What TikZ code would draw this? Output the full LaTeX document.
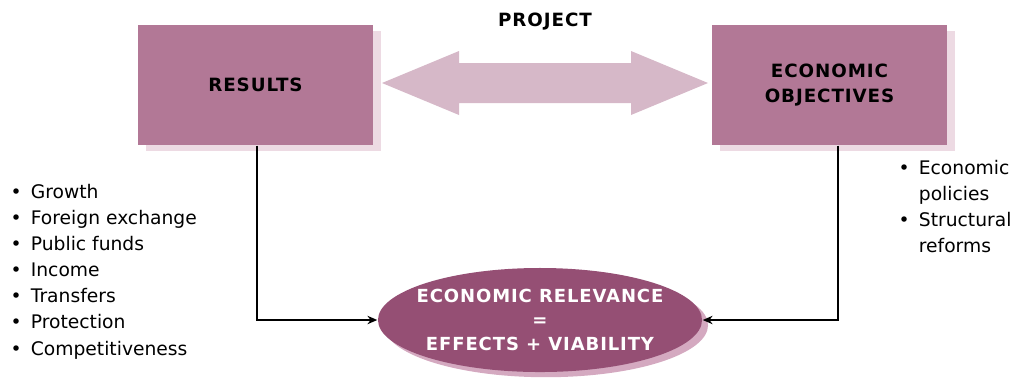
\documentclass[tikz,border=0pt]{standalone}
\usepackage{fontspec}
\setmainfont{DejaVu Sans}
\newfontfamily\capsfont[LetterSpace=5]{DejaVu Sans}
\usetikzlibrary{arrows.meta,shapes.geometric,shadows}
\definecolor{boxpink}{HTML}{B27896}
\definecolor{boxshade}{HTML}{EDDAE3}
\definecolor{arrowpink}{HTML}{D6B8C8}
\definecolor{ovalplum}{HTML}{954F74}
\definecolor{ovalshade}{HTML}{D4A9C0}

\begin{document}
\begin{tikzpicture}[x=0.025cm,y=-0.025cm,line width=1pt,>={Stealth[length=7pt,width=6pt]}]
\tikzset{box/.style={fill=boxpink,minimum width=5.875cm,minimum height=3cm,
    inner sep=0pt,align=center,font=\capsfont\bfseries\fontsize{13}{18}\selectfont,
    drop shadow={shadow xshift=0.2cm,shadow yshift=-0.15cm,fill=boxshade,opacity=1}},
  oval/.style={ellipse,fill=ovalplum,minimum width=8.1cm,minimum height=2.6cm,inner sep=0pt,
    drop shadow={shadow xshift=0.15cm,shadow yshift=-0.13cm,fill=ovalshade,opacity=1}},
  ovaltext/.style={text=white,align=center,inner sep=0pt,
    font=\capsfont\bfseries\fontsize{12.8}{16.8}\selectfont},
  bullets/.style={inner sep=0pt,anchor=north west,font=\fontsize{13.3}{18.5}\selectfont}}
\useasboundingbox (0,0) rectangle (1016,384);
% ---------- boxes ----------
\node[box] (results) at (255.5,85) {RESULTS};
\node[box] (objectives) at (829.5,85) {ECONOMIC\\OBJECTIVES};
% ---------- project arrow ----------
\fill[arrowpink] (382,83) -- (459,51) -- (459,63) -- (631,63) -- (631,51) -- (708,83)
  -- (631,115) -- (631,103) -- (459,103) -- (459,115) -- cycle;
\node[font=\capsfont\bfseries\fontsize{13}{15}\selectfont] (project) at (545,22) {PROJECT};
% ---------- relevance ----------
\node[oval] (relevance) at (540,320) {};
\node[ovaltext] (relevancetext) at (relevance) {ECONOMIC RELEVANCE\\=\\EFFECTS + VIABILITY};
% ---------- connectors ----------
\draw[->] ([xshift=0.04cm]results.south) |- (relevance);
\draw[->] ([xshift=0.21cm]objectives.south) |- (relevance);
% ---------- lists ----------
\node[bullets] (effects) at (10,180) {\begin{tabular}{@{}l@{\hspace{6.5pt}}l@{}}
  \textbullet & Growth\\
  \textbullet & Foreign exchange\\
  \textbullet & Public funds\\
  \textbullet & Income\\
  \textbullet & Transfers\\
  \textbullet & Protection\\
  \textbullet & Competitiveness
\end{tabular}};
\node[bullets] (policies) at (898,156) {\begin{tabular}{@{}l@{\hspace{6.5pt}}l@{}}
  \textbullet & Economic\\
   & policies\\
  \textbullet & Structural\\
   & reforms
\end{tabular}};
\end{tikzpicture}
\end{document}
